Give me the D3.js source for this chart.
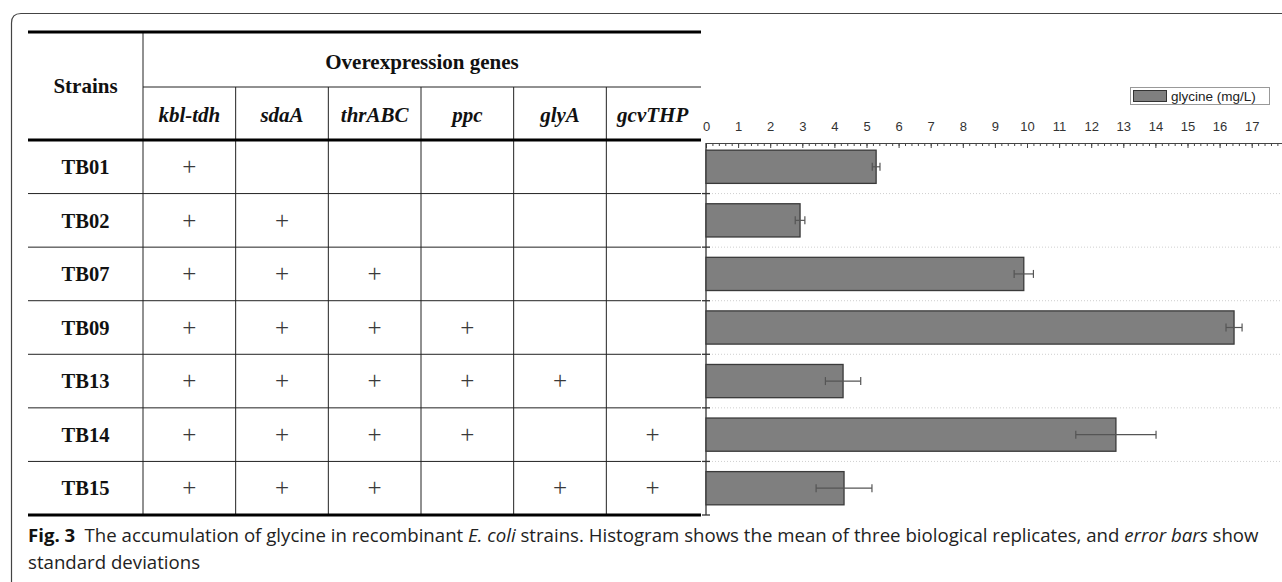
<!DOCTYPE html>
<html>
<head>
<meta charset="utf-8">
<script src="https://cdn.jsdelivr.net/npm/d3@7"></script>
<style>
  html, body { margin: 0; padding: 0; background: #fff; }
  svg { display: block; }
</style>
</head>
<body>
<svg id="fig" width="1282" height="582"></svg>
<script>
// Strains and the genes overexpressed in each
const strains = ["TB01", "TB02", "TB07", "TB09", "TB13", "TB14", "TB15"];
const genes = ["kbl-tdh", "sdaA", "thrABC", "ppc", "glyA", "gcvTHP"];
const overexpressed = [
  [1, 0, 0, 0, 0, 0],
  [1, 1, 0, 0, 0, 0],
  [1, 1, 1, 0, 0, 0],
  [1, 1, 1, 1, 0, 0],
  [1, 1, 1, 1, 1, 0],
  [1, 1, 1, 1, 0, 1],
  [1, 1, 1, 0, 1, 1]
];
// Glycine titre (mg/L): mean and standard deviation of three replicates
const glycineMean = [5.3, 2.93, 9.9, 16.45, 4.27, 12.77, 4.3];
const glycineSD = [0.12, 0.15, 0.3, 0.25, 0.55, 1.25, 0.87];
const xTickValues = [0, 1, 2, 3, 4, 5, 6, 7, 8, 9, 10, 11, 12, 13, 14, 15, 16, 17];
const legendLabel = "glycine (mg/L)";

const svg = d3.select("#fig");
const serif = "'Liberation Serif', 'Times New Roman', serif";
const sans = "'Liberation Sans', Arial, sans-serif";

// Figure frame (top and left edges, rounded corner)
svg.append("path")
  .attr("d", "M11.5,582 L11.5,23 Q11.5,13.5 21,13.5 L1282,13.5")
  .attr("fill", "none").attr("stroke", "#444").attr("stroke-width", 1.2);

// Shared row scale for the table and the bars
const tableTop = 32, headerMid = 87, bodyTop = 140, bodyBottom = 515;
const y = d3.scaleBand().domain(strains).range([bodyTop, bodyBottom])
  .paddingInner(0.38).paddingOuter(0.19);
const step = y.step();
const rowTop = s => y(s) - y.paddingInner() * step / 2;

// Table columns
const tableLeft = 28, tableRight = 701, strainColRight = 143;
const gx = d3.scaleBand().domain(genes).range([strainColRight, 699]);

const table = svg.append("g");
// Thin row separators
strains.slice(1).forEach(s => {
  table.append("line").attr("x1", tableLeft).attr("x2", tableRight)
    .attr("y1", rowTop(s)).attr("y2", rowTop(s))
    .attr("stroke", "#222").attr("stroke-width", 1);
});
table.append("line").attr("x1", strainColRight).attr("x2", tableRight)
  .attr("y1", headerMid).attr("y2", headerMid).attr("stroke", "#222").attr("stroke-width", 1);
// Vertical separators
table.append("line").attr("x1", strainColRight).attr("x2", strainColRight)
  .attr("y1", tableTop).attr("y2", bodyBottom).attr("stroke", "#222").attr("stroke-width", 1);
genes.slice(1).forEach(g => {
  table.append("line").attr("x1", gx(g)).attr("x2", gx(g))
    .attr("y1", headerMid).attr("y2", bodyBottom).attr("stroke", "#222").attr("stroke-width", 1);
});
// Thick rules
[tableTop, bodyTop, bodyBottom].forEach(yy => {
  table.append("line").attr("x1", tableLeft).attr("x2", tableRight)
    .attr("y1", yy).attr("y2", yy).attr("stroke", "#000").attr("stroke-width", 3);
});

// Header text
table.append("text").attr("x", (tableLeft + strainColRight) / 2).attr("y", (tableTop + bodyTop) / 2)
  .attr("dy", "0.35em").attr("text-anchor", "middle")
  .style("font-family", serif).style("font-weight", "bold").style("font-size", "21px")
  .attr("fill", "#111").text("Strains");
table.append("text").attr("x", (strainColRight + tableRight) / 2).attr("y", (tableTop + headerMid) / 2 + 2)
  .attr("dy", "0.35em").attr("text-anchor", "middle")
  .style("font-family", serif).style("font-weight", "bold").style("font-size", "21px")
  .attr("fill", "#111").text("Overexpression genes");
genes.forEach(g => {
  table.append("text").attr("x", gx(g) + gx.bandwidth() / 2).attr("y", (headerMid + bodyTop) / 2 + 1)
    .attr("dy", "0.35em").attr("text-anchor", "middle")
    .style("font-family", serif).style("font-weight", "bold").style("font-style", "italic")
    .style("font-size", "21px").attr("fill", "#111").text(g);
});

// Strain names and plus marks
strains.forEach((s, i) => {
  const cy = y(s) + y.bandwidth() / 2;
  table.append("text").attr("x", (tableLeft + strainColRight) / 2).attr("y", cy)
    .attr("dy", "0.35em").attr("text-anchor", "middle")
    .style("font-family", serif).style("font-weight", "bold").style("font-size", "20.5px")
    .attr("fill", "#111").text(s);
  genes.forEach((g, j) => {
    if (overexpressed[i][j]) {
      table.append("text").attr("x", gx(g) + gx.bandwidth() / 2).attr("y", cy)
        .attr("dy", "0.33em").attr("text-anchor", "middle")
        .style("font-family", serif).style("font-size", "25px")
        .attr("fill", "#3a3a3a").text("+");
    }
  });
});

// Bar chart
const axisY = 143, plotLeft = 706;
const x = d3.scaleLinear().domain([0, 18]).range([plotLeft, plotLeft + 18 * 32.1]);
const chart = svg.append("g");

// Dotted row guides
strains.slice(1).forEach(s => {
  chart.append("line").attr("x1", plotLeft).attr("x2", 1282)
    .attr("y1", rowTop(s)).attr("y2", rowTop(s))
    .attr("stroke", "#cfcfcf").attr("stroke-width", 1).attr("stroke-dasharray", "1,2");
});

// Minor ticks
const minorTicks = d3.range(0, 90).map(k => k / 5);
chart.append("g").attr("transform", `translate(0,${axisY})`)
  .call(d3.axisTop(x).tickValues(minorTicks).tickSize(-3).tickFormat(""))
  .call(g => g.select(".domain").remove())
  .selectAll("line").attr("stroke", "#444");
// Major ticks and labels
const xAxis = chart.append("g").attr("transform", `translate(0,${axisY})`)
  .call(d3.axisTop(x).tickValues(xTickValues).tickSize(-5).tickSizeOuter(0).tickPadding(12)
    .tickFormat(d3.format("d")));
xAxis.select(".domain").attr("stroke", "#444");
xAxis.selectAll(".tick line").attr("stroke", "#444");
xAxis.selectAll("text").style("font-family", sans).style("font-size", "13px").attr("fill", "#333");

// Category axis line with boundary ticks
chart.append("line").attr("x1", plotLeft).attr("x2", plotLeft)
  .attr("y1", axisY).attr("y2", bodyBottom).attr("stroke", "#333").attr("stroke-width", 1.3);
strains.slice(1).map(rowTop).concat([bodyBottom]).forEach(yy => {
  chart.append("line").attr("x1", plotLeft - 4).attr("x2", plotLeft + 4)
    .attr("y1", yy).attr("y2", yy).attr("stroke", "#333").attr("stroke-width", 1.3);
});

// Bars
chart.selectAll("rect.bar").data(strains).join("rect").attr("class", "bar")
  .attr("x", x(0)).attr("y", s => y(s))
  .attr("width", (s, i) => x(glycineMean[i]) - x(0))
  .attr("height", y.bandwidth())
  .attr("fill", "#7f7f7f").attr("stroke", "#3a3a3a").attr("stroke-width", 1.3);

// Error bars
strains.forEach((s, i) => {
  const cy = y(s) + y.bandwidth() / 2;
  const lo = x(glycineMean[i] - glycineSD[i]), hi = x(glycineMean[i] + glycineSD[i]);
  const eb = chart.append("g").attr("stroke", "#555").attr("stroke-width", 1.2);
  eb.append("line").attr("x1", lo).attr("x2", hi).attr("y1", cy).attr("y2", cy);
  eb.append("line").attr("x1", lo).attr("x2", lo).attr("y1", cy - 4).attr("y2", cy + 4);
  eb.append("line").attr("x1", hi).attr("x2", hi).attr("y1", cy - 4).attr("y2", cy + 4);
});

// Legend
const legend = svg.append("g").attr("transform", "translate(1130,87)");
legend.append("rect").attr("x", 0.5).attr("y", 0.5).attr("width", 139).attr("height", 17)
  .attr("fill", "#fff").attr("stroke", "#999").attr("stroke-width", 1);
legend.append("rect").attr("x", 3.5).attr("y", 3.5).attr("width", 33).attr("height", 11)
  .attr("fill", "#7f7f7f").attr("stroke", "#333").attr("stroke-width", 1);
legend.append("text").attr("x", 41).attr("y", 9).attr("dy", "0.35em")
  .style("font-family", sans).style("font-size", "13.5px").attr("fill", "#222").text(legendLabel);

// Caption
const capFont = "'Open Sans', 'Noto Sans', sans-serif";
const cap1 = svg.append("text").attr("x", 0).attr("y", 0)
  .style("font-family", capFont).style("font-size", "17.5px").attr("fill", "#222");
cap1.append("tspan").style("font-weight", "bold").attr("fill", "#111").text("Fig. 3");
cap1.append("tspan").text("\u2002The accumulation of glycine in recombinant ");
cap1.append("tspan").style("font-style", "italic").text("E. coli");
cap1.append("tspan").text(" strains. Histogram shows the mean of three biological replicates, and ");
cap1.append("tspan").style("font-style", "italic").text("error bars");
cap1.append("tspan").text(" show");
const cap2 = svg.append("text").attr("x", 0).attr("y", 0)
  .style("font-family", capFont).style("font-size", "17.5px").attr("fill", "#222")
  .text("standard deviations");
const w1 = cap1.node().getComputedTextLength();
const sx = (1259 - 28) / w1;
cap1.attr("transform", `translate(28,542) scale(${sx},1)`);
cap2.attr("transform", `translate(28,569) scale(${sx},1)`);
</script>
</body>
</html>
